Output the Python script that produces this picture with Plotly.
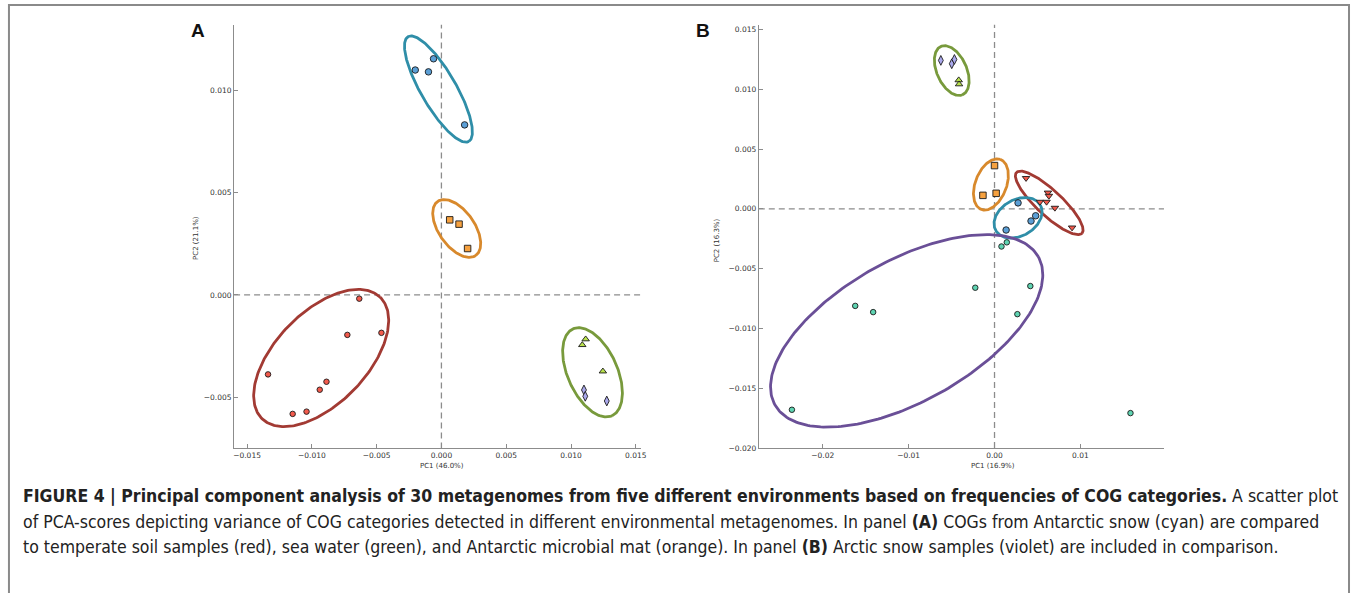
import numpy as np
import plotly.graph_objects as go

W, H = 1357, 593

# ---------------- Panel A data ----------------
A_cyan_x = [-0.00202, -0.00100, -0.00061, 0.00179]
A_cyan_y = [0.01099, 0.01090, 0.01154, 0.00831]
A_orange_x = [0.00064, 0.00136, 0.00202]
A_orange_y = [0.00367, 0.00346, 0.00227]
A_red_x = [-0.00634, -0.00463, -0.00726, -0.01338, -0.00887, -0.00939, -0.01041, -0.01148]
A_red_y = [-0.00018, -0.00185, -0.00195, -0.00388, -0.00424, -0.00463, -0.00570, -0.00581]
A_green_x = [0.01113, 0.01087, 0.01246]
A_green_y = [-0.00216, -0.00244, -0.00373]
A_violet_x = [0.01100, 0.01110, 0.01276]
A_violet_y = [-0.00464, -0.00495, -0.00518]

# ---------------- Panel B data ----------------
B_violet_x = [-0.00625, -0.00498, -0.00467]
B_violet_y = [0.01242, 0.01214, 0.01250]
B_green_x = [-0.00417, -0.00413]
B_green_y = [0.01077, 0.01043]
B_orange_x = [0.00000, -0.00135, 0.00019]
B_orange_y = [0.00362, 0.00113, 0.00130]
B_red_x = [0.00367, 0.00622, 0.00633, 0.00529, 0.00606, 0.00703, 0.00903]
B_red_y = [0.00257, 0.00135, 0.00108, 0.00058, 0.00058, 0.00008, -0.00157]
B_blue_x = [0.00274, 0.00479, 0.00425, 0.00135]
B_blue_y = [0.00050, -0.00058, -0.00102, -0.00177]
B_teal_x = [0.00143, 0.00081, -0.00224, 0.00417, -0.01622, -0.01413, 0.00266, -0.02359, 0.01583]
B_teal_y = [-0.00280, -0.00315, -0.00660, -0.00646, -0.00812, -0.00864, -0.00881, -0.01681, -0.01709]

# Tick values / labels
A_xticks = [-0.015, -0.010, -0.005, 0.000, 0.005, 0.010, 0.015]
A_yticks = [-0.005, 0.000, 0.005, 0.010]
B_xticks = [-0.02, -0.01, 0.00, 0.01]
B_yticks = [-0.020, -0.015, -0.010, -0.005, 0.000, 0.005, 0.010, 0.015]

A_xlabel, A_ylabel = "PC1 (46.0%)", "PC2 (21.1%)"
B_xlabel, B_ylabel = "PC1 (16.9%)", "PC2 (16.3%)"

# ---------------- Layout geometry (pixels) ----------------
A_range_x = [-0.0160, 0.0154]
A_range_y = [-0.0075, 0.0132]
B_range_x = [-0.02745, 0.01973]
B_range_y = [-0.0200, 0.0154]

A_px = (234.3, 643.3, 25.0, 452.3)   # left, right, top, bottom
B_px = (761.7, 1169.0, 25.0, 451.7)


def xdom(p):
    return [p[0] / W, p[1] / W]


def ydom(p):
    return [1 - p[3] / H, 1 - p[2] / H]


def scales(p, rx, ry):
    sx = (p[1] - p[0]) / (rx[1] - rx[0])
    sy = (p[3] - p[2]) / (ry[1] - ry[0])
    return sx, sy


sA = scales(A_px, A_range_x, A_range_y)
sB = scales(B_px, B_range_x, B_range_y)

# Ellipses: centre in data units, semi-axes in screen px, angle in degrees
ellipses = [
    ("A", "#2f8ea8", -0.00023, 0.01006, 61.0, 17.7, -60.0),
    ("A", "#d8892c", 0.00118, 0.00325, 33.3, 18.0, -55.0),
    ("A", "#a23a33", -0.00928, -0.00308, 85.3, 46.0, 46.0),
    ("A", "#789a3c", 0.01166, -0.00378, 48.0, 25.0, -66.0),
    ("B", "#789a3c", -0.00498, 0.01157, 26.7, 15.0, -66.0),
    ("B", "#d8892c", -0.00042, 0.00204, 27.0, 15.7, 69.0),
    ("B", "#a23a33", 0.00637, 0.00050, 45.0, 12.7, -43.0),
    ("B", "#2f8ea8", 0.00274, -0.00075, 25.8, 18.3, 30.0),
    ("B", "#6a4f97", -0.01023, -0.01021, 152.0, 71.0, 29.5),
]

fig = go.Figure()

t = np.linspace(0, 2 * np.pi, 241)
for panel, col, cx, cy, a, b, ang in ellipses:
    sx, sy = sA if panel == "A" else sB
    th = np.deg2rad(ang)
    ex = cx + (a * np.cos(th) * np.cos(t) - b * np.sin(th) * np.sin(t)) / sx
    ey = cy + (a * np.sin(th) * np.cos(t) + b * np.cos(th) * np.sin(t)) / sy
    fig.add_trace(go.Scatter(
        x=ex, y=ey, mode="lines", line=dict(color=col, width=2.8),
        xaxis="x" if panel == "A" else "x2", yaxis="y" if panel == "A" else "y2",
        hoverinfo="skip", showlegend=False))

OUT = dict(color="#1a1a1a", width=0.9)


def pts(x, y, color, symbol, size, panel):
    fig.add_trace(go.Scatter(
        x=x, y=y, mode="markers",
        marker=dict(color=color, symbol=symbol, size=size, line=OUT),
        xaxis="x" if panel == "A" else "x2", yaxis="y" if panel == "A" else "y2",
        showlegend=False))


pts(A_cyan_x, A_cyan_y, "#5b9fd6", "circle", 6.5, "A")
pts(A_orange_x, A_orange_y, "#f6a13f", "square", 6.5, "A")
pts(A_red_x, A_red_y, "#f25a4c", "circle", 5.5, "A")
pts(A_green_x, A_green_y, "#b9e24c", "triangle-up", 6.5, "A")
pts(A_violet_x, A_violet_y, "#aaa8ec", "diamond-tall", 7, "A")

pts(B_violet_x, B_violet_y, "#aaa8ec", "diamond-tall", 7, "B")
pts(B_green_x, B_green_y, "#b9e24c", "triangle-up", 6.5, "B")
pts(B_orange_x, B_orange_y, "#f6a13f", "square", 6.5, "B")
pts(B_red_x, B_red_y, "#f25a4c", "triangle-down", 6.5, "B")
pts(B_blue_x, B_blue_y, "#5b9fd6", "circle", 6.5, "B")
pts(B_teal_x, B_teal_y, "#5fd4b2", "circle", 5.5, "B")

TICKFONT = dict(family="DejaVu Sans", size=7.5, color="#333333")
common = dict(showline=True, linecolor="#8c8c8c", linewidth=1, ticks="inside",
              ticklen=4, tickcolor="#8c8c8c", tickwidth=1, showgrid=False,
              zeroline=False, mirror=False, tickfont=TICKFONT, fixedrange=True)

fig.update_layout(
    width=W, height=H, margin=dict(l=0, r=0, t=0, b=0),
    paper_bgcolor="white", plot_bgcolor="white", showlegend=False,
    xaxis=dict(domain=xdom(A_px), range=A_range_x, anchor="y", tickvals=A_xticks,
               tickformat=".3f", **common),
    yaxis=dict(domain=ydom(A_px), range=A_range_y, anchor="x", tickvals=A_yticks,
               tickformat=".3f", **common),
    xaxis2=dict(domain=xdom(B_px), range=B_range_x, anchor="y2", tickvals=B_xticks,
                tickformat=".2f", **common),
    yaxis2=dict(domain=ydom(B_px), range=B_range_y, anchor="x2", tickvals=B_yticks,
                tickformat=".3f", **common),
)

# dashed zero lines
for xr, yr in (("x", "y"), ("x2", "y2")):
    fig.add_shape(type="line", xref=xr, yref=yr + " domain", x0=0, x1=0, y0=0, y1=1,
                  line=dict(color="#8c8c8c", width=1.3, dash="6px,4px"), layer="below")
    fig.add_shape(type="line", xref=xr + " domain", yref=yr, x0=0, x1=1, y0=0, y1=0,
                  line=dict(color="#8c8c8c", width=1.3, dash="6px,4px"), layer="below")

# outer frame
fig.add_shape(type="rect", xref="paper", yref="paper",
              x0=8 / W, x1=1355 / W, y0=-0.05, y1=1 - 5 / H,
              line=dict(color="#8a8a8a", width=2))

AXFONT = dict(family="DejaVu Sans", size=7, color="#333333")


def ann(x, y, text, font, xanchor="center", **kw):
    fig.add_annotation(x=x / W, y=1 - y / H, xref="paper", yref="paper", text=text,
                       showarrow=False, font=font, xanchor=xanchor, yanchor="middle",
                       **kw)


ann(443, 470, A_xlabel, AXFONT)
ann(997, 470, B_xlabel, AXFONT)
ann(196, 240, A_ylabel, AXFONT, textangle=-90)
ann(720, 242, B_ylabel, AXFONT, textangle=-90)

LETTER = dict(family="Liberation Sans, Arial, sans-serif", size=19, color="#111111")
ann(198, 31, "<b>A</b>", LETTER)
ann(706, 31, "<b>B</b>", LETTER)

CAP = dict(family="DejaVu Sans Condensed, Liberation Sans Narrow, sans-serif", size=17.5,
           color="#222222")
caption_lines = [
    "<b>FIGURE 4 | Principal component analysis of 30 metagenomes from five different "
    "environments based on frequencies of COG categories.</b> A scatter plot",
    "of PCA-scores depicting variance of COG categories detected in different environmental "
    "metagenomes. In panel <b>(A)</b> COGs from Antarctic snow (cyan) are compared",
    "to temperate soil samples (red), sea water (green), and Antarctic microbial mat "
    "(orange). In panel <b>(B)</b> Arctic snow samples (violet) are included in comparison.",
]
for i, line in enumerate(caption_lines):
    ann(20, 500 + 26 * i, line, CAP, xanchor="left")

fig.write_html("out.html", config={"displayModeBar": False},
               post_script="document.body.style.margin='0px';"
                           "document.body.style.overflow='hidden';")
